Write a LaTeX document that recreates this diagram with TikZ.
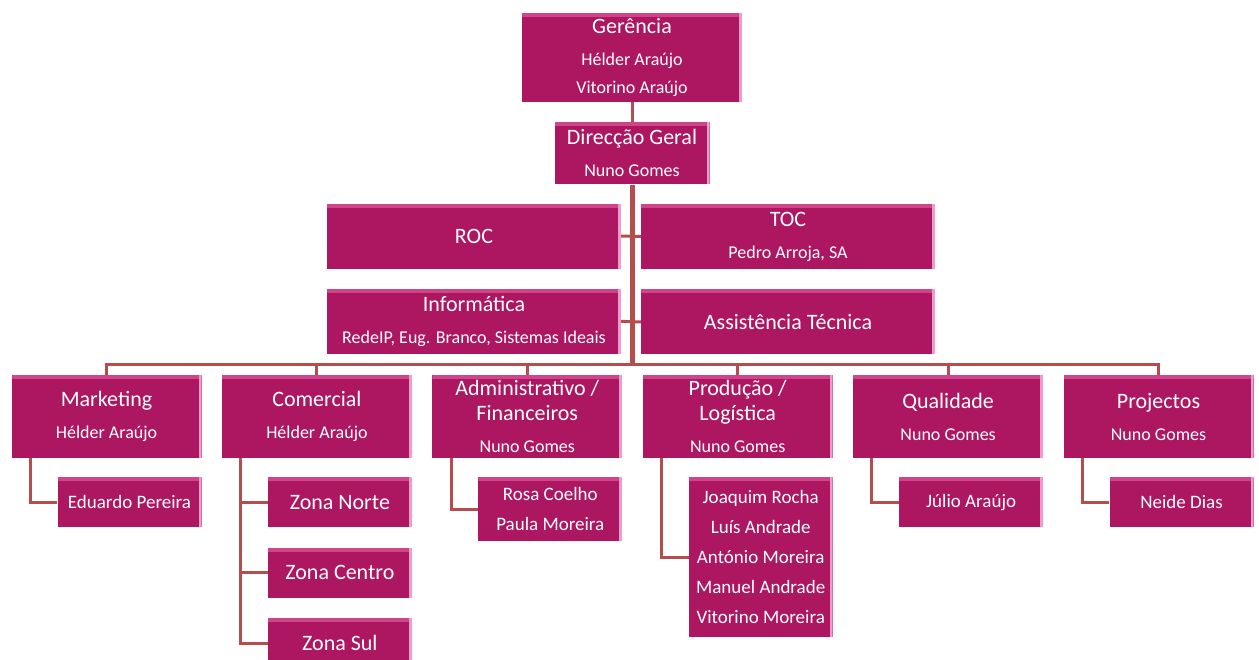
\documentclass[tikz,border=0pt]{standalone}
\usepackage{fontspec}
\setmainfont{Carlito}
\usetikzlibrary{positioning}
\definecolor{boxfill}{HTML}{AD1762}
\definecolor{boxtop}{HTML}{D04489}
\definecolor{boxside}{HTML}{EE9CCB}
\definecolor{linkclr}{HTML}{B54D4D}
\newcommand{\ttl}[1]{{\fontsize{22}{28}\selectfont #1}}
\tikzset{
  orgbox/.style={rectangle, fill=boxfill, text=white, inner sep=0pt, align=center,
    font=\fontsize{18}{28}\selectfont,
    path picture={
      \fill[boxtop] (path picture bounding box.north west) rectangle ([yshift=-4pt]path picture bounding box.north east);
      \fill[boxside] ([xshift=-3pt]path picture bounding box.north east) rectangle (path picture bounding box.south east);
    }},
  wide/.style={orgbox, minimum width=294pt, minimum height=65pt},
  unit/.style={orgbox, minimum width=190pt, minimum height=83pt},
  leaf/.style={orgbox, minimum width=144pt, minimum height=50pt, font=\fontsize{19}{30}\selectfont},
  zone/.style={leaf, font=\fontsize{22}{28}\selectfont},
  link/.style={draw=linkclr, line width=3pt},
}

\begin{document}
\begin{tikzpicture}[x=1pt,y=-1pt]
    \useasboundingbox (0,0) rectangle (1259,659);
    % top of the chart
    \node[orgbox, minimum width=220pt, minimum height=89pt] (ger) at (632,57.5) {\ttl{Gerência}\\[4pt]Hélder Araújo\\Vitorino Araújo};
    \node[orgbox, minimum width=155pt, minimum height=62pt] (dg) [below=20pt of ger] {\ttl{Direcção Geral}\\[4pt]Nuno Gomes};
    \node[wide] (roc) at (474,236) {\ttl{ROC}};
    \node[wide] (toc) at (788,236.5) {\ttl{TOC}\\[4pt]Pedro Arroja, SA};
    \node[wide] (inf) [below=20pt of roc] {\ttl{Informática}\\[4pt]RedeIP, Eug. Branco, Sistemas Ideais};
    \node[wide] (ast) [below=20pt of toc] {\ttl{Assistência Técnica}};
    % departments
    \node[unit] (mkt) at (106.5,416.5) {\ttl{Marketing}\\[4pt]Hélder Araújo};
    \node[unit] (com) [right=20pt of mkt] {\ttl{Comercial}\\[4pt]Hélder Araújo};
    \node[unit] (adm) [right=20pt of com] {\ttl{Administrativo /}\\[-3pt]\ttl{Financeiros}\\[4pt]Nuno Gomes};
    \node[unit] (prd) [right=20pt of adm] {\ttl{Produção /}\\[-3pt]\ttl{Logística}\\[4pt]Nuno Gomes};
    \node[unit] (qua) [right=20pt of prd] {\ttl{Qualidade}\\[4pt]Nuno Gomes};
    \node[unit] (prj) [right=20pt of qua] {\ttl{Projectos}\\[4pt]Nuno Gomes};
    % people under the departments
    \node[leaf, anchor=north east] (edu) at ([yshift=-19pt]mkt.south east) {Eduardo Pereira};
    \node[zone, anchor=north east] (zn) at ([yshift=-19pt]com.south east) {Zona Norte};
    \node[zone] (zc) [below=20pt of zn] {Zona Centro};
    \node[zone] (zs) [below=20pt of zc] {Zona Sul};
    \node[leaf, minimum height=64pt, anchor=north east] (rp) at ([yshift=-19pt]adm.south east) {Rosa Coelho\\Paula Moreira};
    \node[leaf, minimum height=160pt, anchor=north east] (jr) at ([yshift=-19pt]prd.south east) {Joaquim Rocha\\Luís Andrade\\António Moreira\\Manuel Andrade\\Vitorino Moreira};
    \node[leaf, anchor=north east] (ja) at ([yshift=-19pt]qua.south east) {Júlio Araújo};
    \node[leaf, anchor=north east] (nd) at ([yshift=-19pt]prj.south east) {Neide Dias};
    % connectors
    \coordinate (bus) at (632,364);
    \coordinate (comv) at ([xshift=19pt]com.south west);
    \draw[link] (ger) -- (dg);
    \draw[link] (roc.east) -- (toc.west);
    \draw[link] (inf.east) -- (ast.west);
    \draw[link, line width=5pt] (dg.south) -- (bus);
    \draw[link] (mkt.north) |- (bus) -| (prj.north);
    \foreach \u in {com,adm,prd,qua}
        \draw[link] (\u.north) -- (\u.north |- bus);
    \foreach \u/\l in {mkt/edu,adm/rp,prd/jr,qua/ja,prj/nd}
        \draw[link] ([xshift=19pt]\u.south west) |- (\l.west);
    \draw[link] (comv) |- (zs.west);
    \draw[link] (zn.west) -- (zn.west -| comv);
    \draw[link] (zc.west) -- (zc.west -| comv);
\end{tikzpicture}
\end{document}
